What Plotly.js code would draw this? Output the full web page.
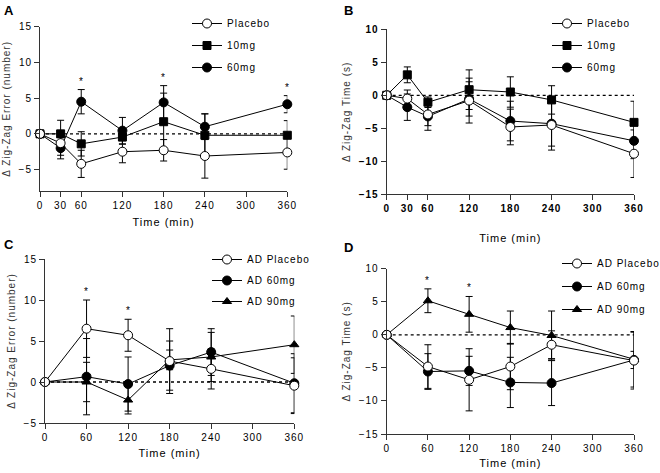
<!DOCTYPE html>
<html>
<head>
<meta charset="utf-8">
<script src="https://cdn.plot.ly/plotly-3.0.1.min.js"></script>
<style>
  html, body { margin: 0; padding: 0; background: #fff; }
  #chart { width: 660px; height: 473px; }
  text { letter-spacing: 1px; }
</style>
</head>
<body>
<div id="chart"></div>
<script>
// ---------- Data ----------
const timeAB = [0, 30, 60, 120, 180, 240, 360];
const timeCD = [0, 60, 120, 180, 240, 360];
const ticksAB = [0, 30, 60, 120, 180, 240, 300, 360];
const ticksCD = [0, 60, 120, 180, 240, 300, 360];

// Panel A: Δ Zig-Zag Error (number)
const aPlacebo    = [0, -1.3, -4.2, -2.5, -2.3, -3.1, -2.6];
const aPlaceboErr = [0, 1.7, 1.9, 1.55, 1.5, 3.1, 2.35];
const a10mg       = [0, 0.0, -1.4, -0.45, 1.7, -0.2, -0.2];
const a10mgErr    = [0, 1.9, 1.7, 1.0, 4.0, 3.0, 2.05];
const a60mg       = [0, -2.0, 4.5, 0.45, 4.4, 1.0, 4.15];
const a60mgErr    = [0, 1.5, 1.7, 1.85, 2.35, 1.8, 1.2];
const aSig = [60, 180, 360];

// Panel B: Δ Zig-Zag Time (s)
const bPlacebo    = [0, -0.5, -2.9, -0.8, -4.8, -4.5, -8.85];
const bPlaceboErr = [0, 1.3, 1.7, 3.4, 2.7, 3.8, 3.6];
const b10mg       = [0, 3.1, -1.05, 0.85, 0.5, -0.7, -4.1];
const b10mgErr    = [0, 1.2, 0.8, 3.0, 2.3, 2.15, 3.2];
const b60mg       = [0, -1.8, -3.2, -0.55, -3.9, -4.3, -6.9];
const b60mgErr    = [0, 2.0, 2.1, 2.6, 3.0, 3.4, 2.7];

// Panel C: Δ Zig-Zag Error (number), AD
const cPlacebo    = [0, 6.5, 5.7, 2.55, 1.6, -0.45];
const cPlaceboErr = [0, 3.5, 1.95, 3.95, 2.45, 3.4];
const c60mg       = [0, 0.65, -0.25, 2.0, 3.65, -0.15];
const c60mgErr    = [0, 4.65, 3.3, 3.0, 2.85, 3.6];
const c90mg       = [0, 0.0, -2.2, 2.7, 3.05, 4.55];
const c90mgErr    = [0, 2.4, 1.7, 1.2, 3.0, 3.5];
const cSig = [60, 120];

// Panel D: Δ Zig-Zag Time (s), AD
const dPlacebo    = [0, -4.8, -6.8, -4.8, -1.5, -3.9];
const dPlaceboErr = [0, 3.3, 4.7, 3.5, 2.1, 4.3];
const d60mg       = [0, -5.55, -5.45, -7.2, -7.3, -3.8];
const d60mgErr    = [0, 2.7, 2.2, 3.8, 3.4, 1.3];
const d90mg       = [0, 5.15, 3.1, 1.1, -0.1, -3.7];
const d90mgErr    = [0, 1.8, 2.7, 2.5, 3.7, 4.2];
const dSig = [60, 120];

// ---------- Helpers ----------
const FONT = 'Liberation Sans, Arial, sans-serif';
function series(name, x, y, err, symbol, ax, legend, rank) {
  const open = symbol === 'circle-open';
  return {
    type: 'scatter', mode: 'lines+markers', name: name,
    x: x, y: y,
    xaxis: ax.x, yaxis: ax.y, legend: legend, legendrank: rank,
    legendgroup: legend + '_' + rank,
    line: { color: '#000', width: 1 },
    marker: {
      symbol: open ? 'circle' : symbol,
      size: symbol === 'square' ? 8 : (symbol === 'triangle-up' ? 8 : 9),
      color: open ? '#fff' : '#000',
      line: { color: '#000', width: 1 }
    },
    error_y: { type: 'data', array: err, visible: true, color: '#000', thickness: 1, width: 3.5 },
    cliponaxis: false
  };
}
function sigAnn(xs, times, vals, errs, xref, yref) {
  return xs.map(t => {
    const i = times.indexOf(t);
    return { x: t, y: vals[i] + errs[i], xref: xref, yref: yref, text: '*',
             showarrow: false, yanchor: 'bottom', yshift: 1,
             font: { family: FONT, size: 10, color: '#000' } };
  });
}

const AX = { A: {x: 'x', y: 'y'}, B: {x: 'x2', y: 'y2'}, C: {x: 'x3', y: 'y3'}, D: {x: 'x4', y: 'y4'} };

const data = [
  series('10mg', timeAB, a10mg, a10mgErr, 'square', AX.A, 'legend', 2),
  series('60mg', timeAB, a60mg, a60mgErr, 'circle', AX.A, 'legend', 3),
  series('Placebo', timeAB, aPlacebo, aPlaceboErr, 'circle-open', AX.A, 'legend', 1),

  series('10mg', timeAB, b10mg, b10mgErr, 'square', AX.B, 'legend2', 2),
  series('60mg', timeAB, b60mg, b60mgErr, 'circle', AX.B, 'legend2', 3),
  series('Placebo', timeAB, bPlacebo, bPlaceboErr, 'circle-open', AX.B, 'legend2', 1),

  series('AD 60mg', timeCD, c60mg, c60mgErr, 'circle', AX.C, 'legend3', 2),
  series('AD 90mg', timeCD, c90mg, c90mgErr, 'triangle-up', AX.C, 'legend3', 3),
  series('AD Placebo', timeCD, cPlacebo, cPlaceboErr, 'circle-open', AX.C, 'legend3', 1),

  series('AD 60mg', timeCD, d60mg, d60mgErr, 'circle', AX.D, 'legend4', 2),
  series('AD 90mg', timeCD, d90mg, d90mgErr, 'triangle-up', AX.D, 'legend4', 3),
  series('AD Placebo', timeCD, dPlacebo, dPlaceboErr, 'circle-open', AX.D, 'legend4', 1)
];

const W = 660, H = 473;
function xdom(l, r) { return [l / W, r / W]; }
function ydom(top, bottom) { return [1 - bottom / H, 1 - top / H]; }

function xaxis(dom, ticks, anchor, standoff, bold) {
  return {
    domain: dom, anchor: anchor, range: [0, 360], tickvals: ticks,
    showgrid: false, zeroline: false, showline: true, linecolor: '#333', linewidth: 1,
    ticks: 'outside', ticklen: 5, tickcolor: '#333',
    tickfont: { family: FONT, size: 10, color: '#000', weight: bold ? 'bold' : 'normal' },
    title: { text: 'Time (min)', font: { family: FONT, size: 11, color: '#000' }, standoff: standoff },
    automargin: false, fixedrange: true
  };
}
function yaxis(dom, range, ticks, anchor, title, bold) {
  return {
    domain: dom, anchor: anchor, range: range, tickvals: ticks,
    showgrid: false, zeroline: false, showline: true, linecolor: '#333', linewidth: 1,
    ticks: 'outside', ticklen: 5, tickcolor: '#333',
    tickfont: { family: FONT, size: 10, color: '#000', weight: bold ? 'bold' : 'normal' },
    title: { text: title, font: { family: FONT, size: 10, color: '#333' }, standoff: 6 },
    automargin: false, fixedrange: true
  };
}
function zeroLine(xref, yref) {
  return { type: 'line', xref: xref, yref: yref, x0: 0, x1: 360, y0: 0, y1: 0,
           line: { color: '#000', width: 1.3, dash: 'dot' }, layer: 'below' };
}
function legendCfg(x, y, gap) {
  return { x: x, y: y, xanchor: 'left', yanchor: 'top', bgcolor: 'rgba(0,0,0,0)',
           font: { family: FONT, size: 10, color: '#000' }, tracegroupgap: gap, traceorder: 'grouped' };
}
function panelLabel(t, x, y) {
  return { text: '<b>' + t + '</b>', xref: 'paper', yref: 'paper', x: x / W, y: 1 - y / H,
           xanchor: 'left', yanchor: 'top', showarrow: false,
           font: { family: FONT, size: 13, color: '#000' } };
}

const layout = {
  width: W, height: H, margin: { l: 0, r: 0, t: 0, b: 0, autoexpand: false },
  paper_bgcolor: '#fff', plot_bgcolor: 'rgba(0,0,0,0)',
  showlegend: true,
  xaxis:  xaxis(xdom(40, 287.3), ticksAB, 'y', 8, false),
  yaxis:  yaxis(ydom(26.7, 191), [-8, 15], [-5, 0, 5, 10, 15], 'x', 'Δ Zig-Zag Error (number)', false),
  xaxis2: xaxis(xdom(386.7, 634), ticksAB, 'y2', 21, true),
  yaxis2: yaxis(ydom(29.3, 194.3), [-15, 10], [-15, -10, -5, 0, 5, 10], 'x2', 'Δ Zig-Zag Time (s)', true),
  xaxis3: xaxis(xdom(45, 294.3), ticksCD, 'y3', 7, false),
  yaxis3: yaxis(ydom(259, 423), [-5, 15], [-5, 0, 5, 10, 15], 'x3', 'Δ Zig-Zag Error (number)', false),
  xaxis4: xaxis(xdom(386.7, 634), ticksCD, 'y4', 6, false),
  yaxis4: yaxis(ydom(268.7, 434), [-15, 10], [-15, -10, -5, 0, 5, 10], 'x4', 'Δ Zig-Zag Time (s)', false),
  legend:  legendCfg(187 / W, 1 - 9 / H, 3),
  legend2: legendCfg(547 / W, 1 - 9 / H, 3),
  legend3: legendCfg(207 / W, 1 - 245 / H, 2),
  legend4: legendCfg(557 / W, 1 - 249 / H, 4),
  shapes: [zeroLine('x', 'y'), zeroLine('x2', 'y2'), zeroLine('x3', 'y3'), zeroLine('x4', 'y4')],
  annotations: [].concat(
    sigAnn(aSig, timeAB, a60mg, a60mgErr, 'x', 'y'),
    sigAnn(cSig, timeCD, cPlacebo, cPlaceboErr, 'x3', 'y3'),
    sigAnn(dSig, timeCD, d90mg, d90mgErr, 'x4', 'y4'),
    [panelLabel('A', 2, 1), panelLabel('B', 342, 1), panelLabel('C', 2, 235), panelLabel('D', 342, 238)]
  )
};

Plotly.newPlot('chart', data, layout, { staticPlot: true, displayModeBar: false });
</script>
</body>
</html>
